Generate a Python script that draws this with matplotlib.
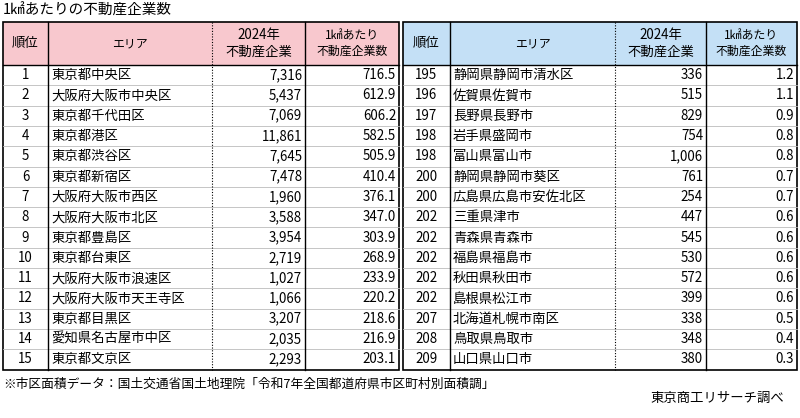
import matplotlib
matplotlib.use("Agg")
import matplotlib.pyplot as plt
from matplotlib.patches import Rectangle

plt.rcParams["font.family"] = "Noto Sans CJK JP"

title = "1㎢あたりの不動産企業数"
headers = ["順位", "エリア", "2024年\n不動産企業", "1㎢あたり\n不動産企業数"]
left_rank = [1, 2, 3, 4, 5, 6, 7, 8, 9, 10, 11, 12, 13, 14, 15]
left_area = ["東京都中央区", "大阪府大阪市中央区", "東京都千代田区", "東京都港区", "東京都渋谷区",
             "東京都新宿区", "大阪府大阪市西区", "大阪府大阪市北区", "東京都豊島区", "東京都台東区",
             "大阪府大阪市浪速区", "大阪府大阪市天王寺区", "東京都目黒区", "愛知県名古屋市中区", "東京都文京区"]
left_count = [7316, 5437, 7069, 11861, 7645, 7478, 1960, 3588, 3954, 2719, 1027, 1066, 3207, 2035, 2293]
left_per = [716.5, 612.9, 606.2, 582.5, 505.9, 410.4, 376.1, 347.0, 303.9, 268.9, 233.9, 220.2, 218.6, 216.9, 203.1]
right_rank = [195, 196, 197, 198, 198, 200, 200, 202, 202, 202, 202, 202, 207, 208, 209]
right_area = ["静岡県静岡市清水区", "佐賀県佐賀市", "長野県長野市", "岩手県盛岡市", "富山県富山市",
              "静岡県静岡市葵区", "広島県広島市安佐北区", "三重県津市", "青森県青森市", "福島県福島市",
              "秋田県秋田市", "島根県松江市", "北海道札幌市南区", "鳥取県鳥取市", "山口県山口市"]
right_count = [336, 515, 829, 754, 1006, 761, 254, 447, 545, 530, 572, 399, 338, 348, 380]
right_per = [1.2, 1.1, 0.9, 0.8, 0.8, 0.7, 0.7, 0.6, 0.6, 0.6, 0.6, 0.6, 0.5, 0.4, 0.3]
note = "※市区面積データ：国土交通省国土地理院「令和7年全国都道府県市区町村別面積調」"
source = "東京商工リサーチ調べ"

fig = plt.figure(figsize=(8, 4.18), dpi=100)
ax = fig.add_axes([0, 0, 1, 1])
ax.set_xlim(0, 800); ax.set_ylim(418, 0); ax.axis("off")

fs = 9.6
ax.text(3, 11, title, fontsize=10.5, va="center", ha="left")

top, head_h, row_h = 22, 43, 20.3
def table(x, rank, area, count, per, color):
    cols = x
    nrows = len(rank)
    bottom = top + head_h + row_h * nrows
    ax.add_patch(Rectangle((cols[0], top), cols[4] - cols[0], head_h, facecolor=color, edgecolor="none"))
    hfs = [fs, 8.6, fs, 8.6]
    for i, h in enumerate(headers):
        cx = (cols[i] + cols[i + 1]) / 2
        ax.text(cx, top + head_h / 2, h, ha="center", va="center", fontsize=hfs[i], linespacing=1.25)
    for r in range(nrows):
        yc = top + head_h + row_h * (r + 0.5)
        ax.text((cols[0] + cols[1]) / 2, yc, str(rank[r]), ha="center", va="center", fontsize=fs)
        ax.text(cols[1] + 3, yc, area[r], ha="left", va="center", fontsize=fs)
        ax.text(cols[3] - 3, yc, f"{count[r]:,}", ha="right", va="center", fontsize=fs)
        ax.text(cols[4] - 3, yc, f"{per[r]:.1f}", ha="right", va="center", fontsize=fs)
        if r > 0:
            y = top + head_h + row_h * r
            ax.plot([cols[0], cols[4]], [y, y], color="#bbbbbb", lw=0.6)
    ax.plot([cols[0], cols[4]], [top + head_h] * 2, color="black", lw=1)
    ax.add_patch(Rectangle((cols[0], top), cols[4] - cols[0], bottom - top, fill=False, edgecolor="black", lw=1.2))
    ax.plot([cols[1]] * 2, [top, bottom], color="black", lw=1)
    ax.plot([cols[2]] * 2, [top, bottom], color="black", lw=0.8, ls=(0, (1, 1.5)))
    ax.plot([cols[3]] * 2, [top, bottom], color="black", lw=1)

table([3, 48, 212, 305, 399], left_rank, left_area, left_count, left_per, "#F8C8CE")
table([403, 450, 615, 706, 797], right_rank, right_area, right_count, right_per, "#C4E0F6")

ax.text(3, 384, note, fontsize=9.2, va="center", ha="left")
ax.text(784, 398, source, fontsize=9.6, va="center", ha="right")

fig.savefig("out.png", dpi=100)
